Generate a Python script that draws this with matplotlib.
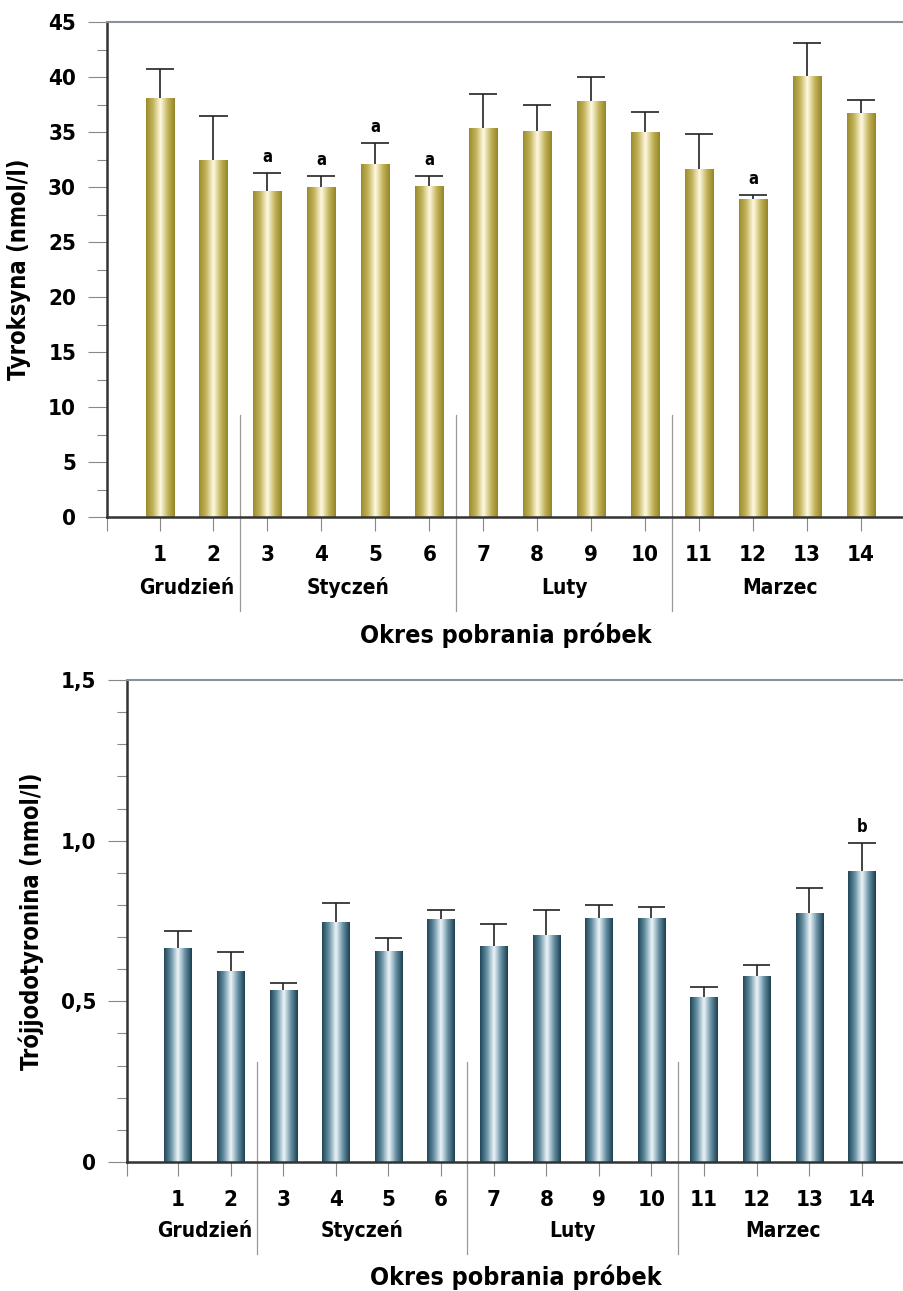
import numpy as np
import matplotlib
matplotlib.use("Agg")
import matplotlib.pyplot as plt
from matplotlib.colors import LinearSegmentedColormap
from matplotlib.ticker import MultipleLocator

# dane
probki = list(range(1, 15))
miesiace = ["Grudzień", "Styczeń", "Luty", "Marzec"]
miesiac_srodek = [1.5, 4.5, 8.5, 12.5]
granice = [2.5, 6.5, 10.5]

t4 = [38.1, 32.5, 29.6, 30.0, 32.1, 30.1, 35.4, 35.1, 37.8, 35.0, 31.6, 28.9, 40.1, 36.7]
t4_gora = [40.7, 36.5, 31.3, 31.0, 34.0, 31.0, 38.5, 37.5, 40.0, 36.8, 34.8, 29.3, 43.1, 37.9]
t4_litery = ["", "", "a", "a", "a", "a", "", "", "", "", "", "a", "", ""]

t3 = [0.665, 0.595, 0.535, 0.748, 0.657, 0.757, 0.672, 0.705, 0.760, 0.760, 0.515, 0.580, 0.776, 0.906]
t3_gora = [0.720, 0.655, 0.557, 0.807, 0.698, 0.785, 0.740, 0.785, 0.800, 0.795, 0.545, 0.613, 0.853, 0.993]
t3_litery = [""] * 13 + ["b"]

plt.rcParams["font.family"] = ["DejaVu Sans"]
plt.rcParams["font.stretch"] = "condensed"
plt.rcParams["font.weight"] = "bold"

zloty = LinearSegmentedColormap.from_list("zl", ["#9c8c2c", "#c4b65e", "#fffbe4", "#c4b65e", "#958526"])
niebieski = LinearSegmentedColormap.from_list("nb", ["#20475a", "#6a93a6", "#eef6fa", "#6a93a6", "#1c4052"])


def panel(ax, wart, gora, litery, cmap, ylim, major, minor, etykieta, ylabels, xl):
    x = np.array(probki)
    w = 0.52
    bars = ax.bar(x, wart, width=w, color="none", edgecolor="none", zorder=2)
    grad = np.linspace(0, 1, 64).reshape(1, -1)
    for b in bars:
        im = ax.imshow(grad, cmap=cmap, aspect="auto", zorder=2,
                       extent=[b.get_x(), b.get_x() + w, 0, b.get_height()])
        im.set_clip_path(b)
    ax.vlines(x, wart, gora, color="#222222", lw=1.2, zorder=3)
    ax.hlines(gora, x - w / 2, x + w / 2, color="#222222", lw=1.2, zorder=3)
    for xi, g, l in zip(x, gora, litery):
        if l:
            ax.annotate(l, (xi, g), xytext=(0, 5), textcoords="offset points",
                        ha="center", va="bottom", fontsize=12, fontweight="bold")
    ax.set_xlim(xl, 14.8)
    ax.set_ylim(*ylim)
    ax.yaxis.set_minor_locator(MultipleLocator(minor))
    ax.set_yticks(np.arange(ylim[0], ylim[1] + major / 2, major), ylabels)
    ax.set_xticks([xl] + probki, [""] + [str(p) for p in probki])
    ax.tick_params(axis="y", which="major", length=14, width=0.8, color="#888888",
                   labelsize=16, pad=8)
    ax.tick_params(axis="y", which="minor", length=7, width=0.8, color="#888888")
    ax.tick_params(axis="x", length=10, width=0.8, color="#888888", labelsize=16, pad=10)
    for s in ["left", "bottom"]:
        ax.spines[s].set_linewidth(1.8)
        ax.spines[s].set_color("#333333")
    ax.spines["right"].set_visible(False)
    ax.spines["top"].set_color("#8a909c")
    ax.spines["top"].set_linewidth(1.5)
    ax.set_ylabel(etykieta, fontsize=17, fontweight="bold", labelpad=12)
    tr = ax.get_xaxis_transform()
    for m, c in zip(miesiace, miesiac_srodek):
        ax.text(c, -0.143, m, transform=tr, ha="center", va="center", fontsize=15, fontweight="bold")
    for g in granice:
        ax.plot([g, g], [0.207, -0.19], transform=tr, color="#999999", lw=0.9, clip_on=False)
    ax.text(0.5, -0.238, "Okres pobrania próbek", transform=ax.transAxes, ha="center",
            va="center", fontsize=18, fontweight="bold")


fig = plt.figure(figsize=(9.04, 12.91), dpi=100)
ax1 = fig.add_axes([0.118, 0.5995, 0.882, 0.3834])
ax2 = fig.add_axes([0.1405, 0.0999, 0.8595, 0.3734])

panel(ax1, t4, t4_gora, t4_litery, zloty, (0, 45), 5, 2.5, "Tyroksyna (nmol/l)",
      [str(v) for v in range(0, 50, 5)], 0.02)
panel(ax2, t3, t3_gora, t3_litery, niebieski, (0, 1.5), 0.5, 0.1, "Trójjodotyronina (nmol/l)",
      ["0", "0,5", "1,0", "1,5"], 0.03)

fig.savefig("out.png", dpi=100)
